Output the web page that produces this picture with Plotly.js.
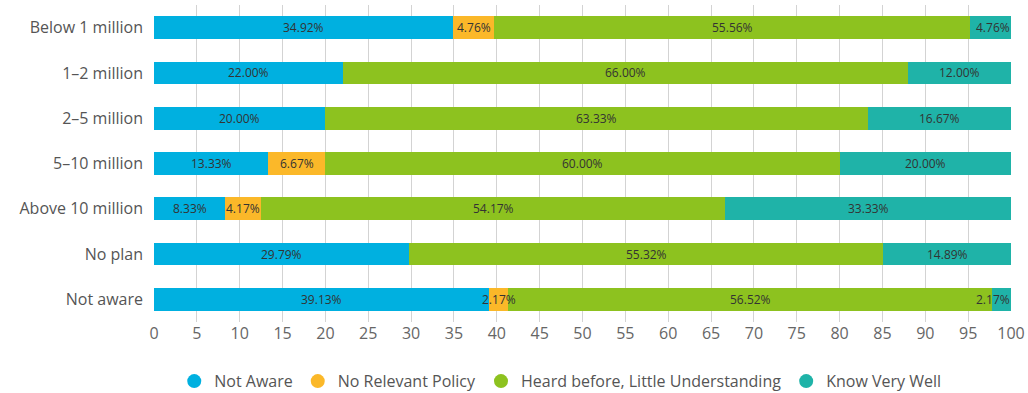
<!DOCTYPE html>
<html>
<head>
<meta charset="utf-8">
<script src="https://cdn.plot.ly/plotly-3.0.1.min.js"></script>
<style>html,body{margin:0;padding:0;background:#fff;}#chart{width:1028px;height:393px;}</style>
</head>
<body>
<div id="chart"></div>
<script>
const categories = ["Below 1 million", "1–2 million", "2–5 million", "5–10 million", "Above 10 million", "No plan", "Not aware"];
const seriesNames = ["Not Aware", "No Relevant Policy", "Heard before, Little Understanding", "Know Very Well"];
const notAware = [34.92, 22.00, 20.00, 13.33, 8.33, 29.79, 39.13];
const noPolicy = [4.76, 0, 0, 6.67, 4.17, 0, 2.17];
const heard = [55.56, 66.00, 63.33, 60.00, 54.17, 55.32, 56.52];
const knowWell = [4.76, 12.00, 16.67, 20.00, 33.33, 14.89, 2.17];
const xTicks = [0,5,10,15,20,25,30,35,40,45,50,55,60,65,70,75,80,85,90,95,100];
const colors = ["#00B0E0", "#FBB829", "#8DC21F", "#1FB3A8"];

const seriesValues = [notAware, noPolicy, heard, knowWell];
const traces = [];
const annotations = [];
const cum = categories.map(() => 0);
seriesValues.forEach((vals, i) => {
  traces.push({
    type: 'bar', orientation: 'h', name: seriesNames[i],
    y: categories, x: vals,
    marker: {color: colors[i], line: {width: 0}},
    showlegend: false, hoverinfo: 'x+name'
  });
  vals.forEach((v, k) => {
    if (v > 0) {
      const end = Math.min(cum[k] + v, 99.999);
      const atEnd = (cum[k] + v >= 99.9) && v < 6;
      annotations.push({
        x: atEnd ? end : cum[k] + v / 2, y: categories[k], xref: 'x', yref: 'y',
        xanchor: atEnd ? 'right' : 'center', xshift: atEnd ? 1 : 0,
        text: v.toFixed(2) + '%', showarrow: false,
        font: {size: 12, color: '#333', family: 'Open Sans'}
      });
    }
    cum[k] += v;
  });
});
seriesNames.forEach((n, i) => {
  traces.push({
    type: 'scatter', mode: 'markers', name: n, x: [null], y: [null],
    marker: {color: colors[i], size: 14, symbol: 'circle'},
    showlegend: true
  });
});

const layout = {
  width: 1028, height: 393,
  margin: {l: 154, r: 17, t: 5, b: 71},
  barmode: 'stack', bargap: 0.5,
  paper_bgcolor: '#fff', plot_bgcolor: '#fff',
  font: {family: 'Open Sans', color: '#555'},
  annotations: annotations,
  xaxis: {
    range: [0, 100], tickvals: xTicks, ticktext: xTicks.map(String),
    showgrid: true, gridcolor: '#d3d3d3', gridwidth: 1,
    zeroline: false, showline: false,
    tickfont: {size: 16, color: '#666'}, ticks: '', fixedrange: true
  },
  yaxis: {
    categoryorder: 'array', categoryarray: categories, autorange: false,
    range: [6.5, -0.5],
    tickfont: {size: 16, color: '#555'}, ticks: '', ticklabelstandoff: 10,
    showgrid: false, zeroline: false, showline: false
  },
  legend: {
    orientation: 'h', x: 0.545, xref: 'container', xanchor: 'center',
    y: 0.03, yref: 'container', yanchor: 'middle',
    font: {size: 16, color: '#555'}, itemwidth: 30, traceorder: 'normal'
  },
  showlegend: true
};
Plotly.newPlot('chart', traces, layout, {displayModeBar: false, staticPlot: true});
</script>
</body>
</html>
